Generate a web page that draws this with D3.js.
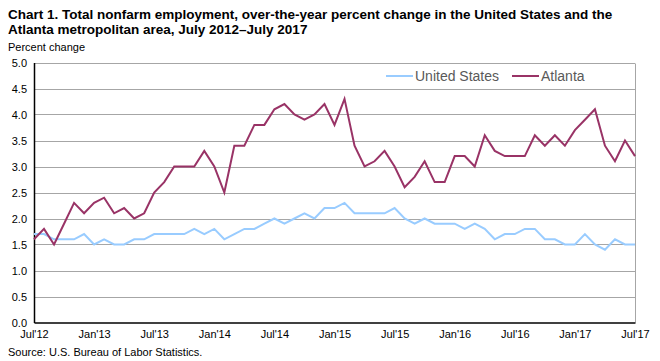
<!DOCTYPE html>
<html>
<head>
<meta charset="utf-8">
<script src="https://cdn.jsdelivr.net/npm/d3@7"></script>
<style>
body { margin: 0; background: #fff; }
text { font-family: "Liberation Sans", Arial, sans-serif; }
</style>
</head>
<body>
<script>
// monthly labels shown on the x axis, every 6 months
var tickLabels = ["Jul'12","Jan'13","Jul'13","Jan'14","Jul'14","Jan'15","Jul'15","Jan'16","Jul'16","Jan'17","Jul'17"];

// over-the-year percent change, Jul 2012 .. Jul 2017
var unitedStates = [1.7,1.7,1.6,1.6,1.6,1.7,1.5,1.6,1.5,1.5,1.6,1.6,
  1.7,1.7,1.7,1.7,1.8,1.7,1.8,1.6,1.7,1.8,1.8,1.9,
  2.0,1.9,2.0,2.1,2.0,2.2,2.2,2.3,2.1,2.1,2.1,2.1,
  2.2,2.0,1.9,2.0,1.9,1.9,1.9,1.8,1.9,1.8,1.6,1.7,
  1.7,1.8,1.8,1.6,1.6,1.5,1.5,1.7,1.5,1.4,1.6,1.5,1.5];

var atlanta = [1.6,1.8,1.5,1.9,2.3,2.1,2.3,2.4,2.1,2.2,2.0,2.1,
  2.5,2.7,3.0,3.0,3.0,3.3,3.0,2.5,3.4,3.4,3.8,3.8,
  4.1,4.2,4.0,3.9,4.0,4.2,3.8,4.3,3.4,3.0,3.1,3.3,
  3.0,2.6,2.8,3.1,2.7,2.7,3.2,3.2,3.0,3.6,3.3,3.2,
  3.2,3.2,3.6,3.4,3.6,3.4,3.7,3.9,4.1,3.4,3.1,3.5,3.2];

var yTicks = [0,0.5,1,1.5,2,2.5,3,3.5,4,4.5,5];

var width = 660, height = 361;
var margin = {top: 62.5, right: 25, bottom: 38.5, left: 34};

var svg = d3.select('body').append('svg')
  .attr('width', width).attr('height', height);

var x = d3.scaleLinear()
  .domain([0, atlanta.length - 1])
  .range([margin.left, width - margin.right]);

var y = d3.scaleLinear()
  .domain([0, 5])
  .range([height - margin.bottom, margin.top]);

// title
svg.append('text').attr('x', 8).attr('y', 19)
  .style('font-size', '13.5px').style('font-weight', 'bold').attr('fill', '#000')
  .text('Chart 1. Total nonfarm employment, over-the-year percent change in the United States and the');
svg.append('text').attr('x', 8).attr('y', 34)
  .style('font-size', '13.5px').style('font-weight', 'bold').attr('fill', '#000')
  .text('Atlanta metropolitan area, July 2012\u2013July  2017');
svg.append('text').attr('x', 8).attr('y', 51)
  .style('font-size', '11px').attr('fill', '#000')
  .text('Percent change');

// gridlines
svg.append('g').selectAll('line')
  .data(yTicks.filter(function(d) { return d > 0; }))
  .enter().append('line')
  .attr('x1', margin.left).attr('x2', width - margin.right)
  .attr('y1', function(d) { return Math.round(y(d)) + 0.5; })
  .attr('y2', function(d) { return Math.round(y(d)) + 0.5; })
  .attr('stroke', '#a6a6a6').attr('stroke-width', 1);

// right border
svg.append('line')
  .attr('x1', width - margin.right + 0.5).attr('x2', width - margin.right + 0.5)
  .attr('y1', Math.round(y(5)) + 0.5).attr('y2', y(0))
  .attr('stroke', '#a6a6a6');

// y axis
var yAxis = d3.axisLeft(y).tickValues(yTicks).tickSize(0).tickPadding(7)
  .tickFormat(d3.format('.1f'));
var gy = svg.append('g').attr('transform', 'translate(' + margin.left + ',0)').call(yAxis);
gy.select('.domain').attr('stroke', '#000').attr('stroke-width', 1.5);
gy.selectAll('text').style('font-size', '11px').attr('fill', '#000')
  .style('font-family', '"Liberation Sans", Arial, sans-serif');

// x axis
var xAxis = d3.axisBottom(x).tickValues(d3.range(0, 61, 6)).tickSize(0).tickPadding(8)
  .tickFormat(function(d, i) { return tickLabels[i]; });
var gx = svg.append('g').attr('transform', 'translate(0,' + y(0) + ')').call(xAxis);
gx.select('.domain').attr('stroke', '#000').attr('stroke-width', 1.5);
gx.selectAll('text').style('font-size', '11px').attr('fill', '#000')
  .style('font-family', '"Liberation Sans", Arial, sans-serif');

// lines
var line = d3.line()
  .x(function(d, i) { return x(i); })
  .y(function(d) { return y(d); });

svg.append('path').datum(unitedStates)
  .attr('d', line).attr('fill', 'none')
  .attr('stroke', '#99ccff').attr('stroke-width', 2);

svg.append('path').datum(atlanta)
  .attr('d', line).attr('fill', 'none')
  .attr('stroke', '#993366').attr('stroke-width', 2);

// legend
var legend = [
  {name: 'United States', color: '#99ccff', x: 386},
  {name: 'Atlanta', color: '#993366', x: 512}
];
var lg = svg.append('g').selectAll('g').data(legend).enter().append('g');
lg.append('line')
  .attr('x1', function(d) { return d.x; }).attr('x2', function(d) { return d.x + 27; })
  .attr('y1', 76).attr('y2', 76)
  .attr('stroke', function(d) { return d.color; }).attr('stroke-width', 2);
lg.append('text')
  .attr('x', function(d) { return d.x + 29; }).attr('y', 81)
  .style('font-size', '14px').attr('fill', '#595959')
  .text(function(d) { return d.name; });

// source
svg.append('text').attr('x', 8).attr('y', 356)
  .style('font-size', '11px').attr('fill', '#000')
  .text('Source: U.S. Bureau of Labor Statistics.');
</script>
</body>
</html>
